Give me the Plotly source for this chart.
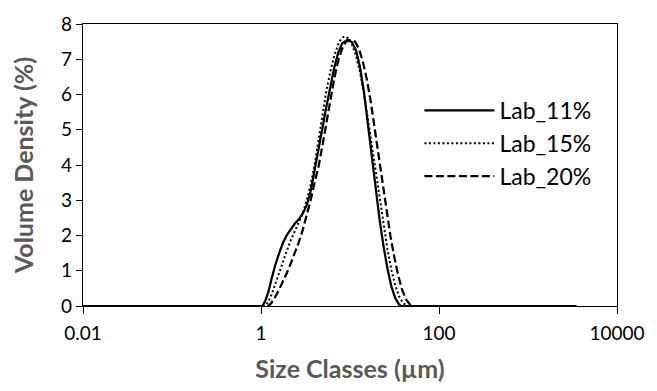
import plotly.graph_objects as go

# Particle size distributions (size class in µm, volume density in %)
size_11 = [0.01, 1.0, 1.035, 1.12, 1.21, 1.30, 1.44, 1.60, 1.77, 1.96, 2.17, 2.40, 2.65, 2.94,
           3.26, 3.61, 4.00, 4.43, 4.90, 5.42, 6.01, 6.65, 7.36, 8.16, 9.44, 10.5, 11.7, 12.9,
           14.3, 15.8, 17.5, 19.4, 21.5, 23.8, 26.4, 29.2, 32.3, 35.7, 37.6, 3500]
vol_11 = [0, 0, 0, 0.15, 0.40, 0.72, 1.15, 1.50, 1.80, 2.02, 2.20, 2.34, 2.45, 2.62,
          2.86, 3.25, 3.85, 4.50, 5.05, 5.65, 6.22, 6.76, 7.18, 7.45, 7.56, 7.48, 7.25, 6.80,
          6.10, 5.20, 4.20, 3.30, 2.45, 1.70, 1.05, 0.55, 0.22, 0.04, 0, 0]

size_15 = [0.01, 1.0, 1.12, 1.21, 1.33, 1.52, 1.72, 1.96, 2.17, 2.40, 2.65, 2.94, 3.26, 3.61,
           4.00, 4.43, 4.90, 5.42, 6.01, 6.65, 7.36, 7.94, 8.65, 9.51, 10.5, 11.7, 12.9, 14.3,
           15.8, 17.5, 19.4, 21.5, 23.8, 26.4, 29.2, 32.3, 35.7, 39.6, 43.9, 3500]
vol_15 = [0, 0, 0, 0.12, 0.35, 0.78, 1.20, 1.58, 1.88, 2.12, 2.38, 2.62, 3.00, 3.45,
          4.00, 4.75, 5.45, 6.10, 6.65, 7.10, 7.42, 7.58, 7.65, 7.60, 7.42, 7.10, 6.65, 6.05,
          5.35, 4.60, 3.80, 3.00, 2.25, 1.60, 1.02, 0.58, 0.27, 0.08, 0, 0]

size_20 = [0.01, 1.0, 1.21, 1.30, 1.44, 1.60, 1.77, 1.96, 2.17, 2.40, 2.65, 2.94, 3.26, 3.61,
           4.00, 4.43, 4.90, 5.42, 6.01, 6.65, 7.36, 8.16, 9.04, 10.3, 11.4, 12.6, 13.9, 15.4,
           17.1, 18.9, 20.9, 23.2, 25.7, 28.4, 31.5, 34.9, 38.6, 42.8, 47.3, 49.9, 3500]
vol_20 = [0, 0, 0, 0.08, 0.25, 0.47, 0.70, 0.95, 1.22, 1.50, 1.80, 2.15, 2.55, 3.00,
          3.50, 3.95, 4.55, 5.20, 5.85, 6.45, 6.95, 7.30, 7.50, 7.56, 7.50, 7.30, 6.95, 6.45,
          5.80, 5.05, 4.30, 3.50, 2.72, 2.00, 1.38, 0.85, 0.45, 0.18, 0.04, 0, 0]

series_names = ["Lab_11%", "Lab_15%", "Lab_20%"]
x_tick_vals = [0.01, 1, 100, 10000]
x_tick_text = ["0.01", "1", "100", "10000"]
y_tick_vals = [0, 1, 2, 3, 4, 5, 6, 7, 8]

FONT = "Lato"
TITLE_GREY = "#595959"

fig = go.Figure()
styles = [
    dict(dash="solid", width=2.25),
    dict(dash="2px,2.5px", width=2.0),
    dict(dash="8px,3.5px", width=2.25),
]
for name, xs, ys, st in zip(series_names, [size_11, size_15, size_20],
                            [vol_11, vol_15, vol_20], styles):
    fig.add_trace(go.Scatter(
        x=xs, y=ys, mode="lines", name=name, legendgroup=name,
        line=dict(color="black", width=st["width"], dash=st["dash"]),
    ))

fig.update_layout(
    width=657, height=391,
    margin=dict(l=83, r=32, t=19, b=85),
    paper_bgcolor="white", plot_bgcolor="white",
    font=dict(family=FONT, size=19, color="black"),
    showlegend=True,
    legend=dict(
        x=0.63, y=0.77, xanchor="left", yanchor="top",
        bgcolor="rgba(0,0,0,0)", borderwidth=0,
        font=dict(family=FONT, size=23, color="black"),
        itemwidth=70, tracegroupgap=0,
    ),
)
fig.update_xaxes(
    type="log", range=[-2, 4],
    tickvals=x_tick_vals, ticktext=x_tick_text,
    ticks="outside", ticklen=7, tickwidth=1.3, tickcolor="black",
    ticklabelstandoff=3,
    showline=True, linecolor="black", linewidth=1.3, mirror=True,
    showgrid=False, zeroline=False,
    title=dict(text="<b>Size Classes (µm)</b>", font=dict(family=FONT, size=25, color=TITLE_GREY), standoff=17),
)
fig.update_yaxes(
    range=[0, 8], tickvals=y_tick_vals,
    ticks="outside", ticklen=6, tickwidth=1.3, tickcolor="black",
    showline=True, linecolor="black", linewidth=1.3, mirror=True,
    showgrid=False, zeroline=False,
    title=dict(text="<b>Volume Density (%)</b>", font=dict(family=FONT, size=25, color=TITLE_GREY), standoff=20),
)

fig.write_html("out.html")
